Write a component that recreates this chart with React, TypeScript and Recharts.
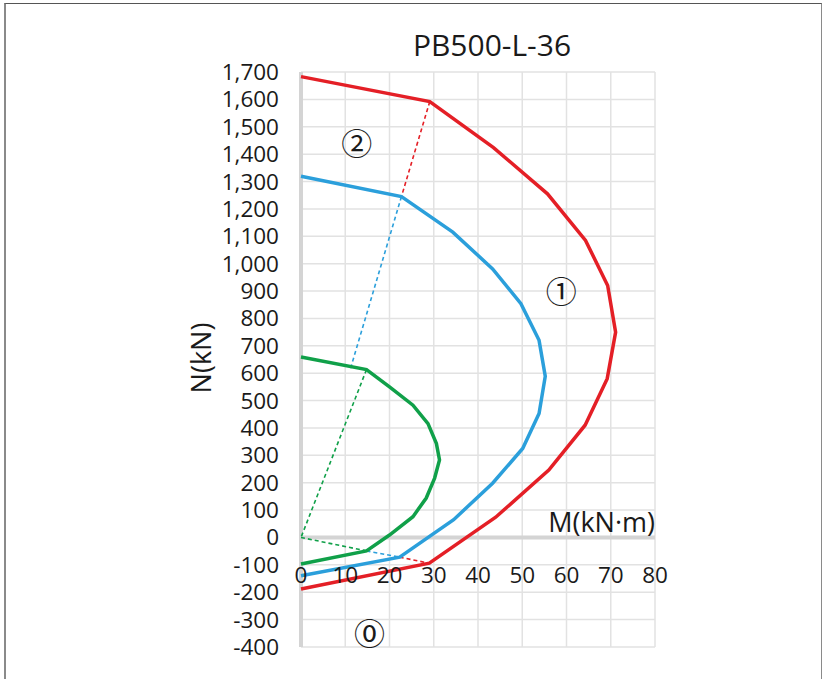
import React from 'react';
import {
  ScatterChart,
  Scatter,
  XAxis,
  YAxis,
  CartesianGrid,
  ReferenceLine,
  ReferenceDot,
} from 'recharts';

// axis ticks
const xTicks = [0, 10, 20, 30, 40, 50, 60, 70, 80];
const yTicks = [
  -400, -300, -200, -100, 0, 100, 200, 300, 400, 500, 600, 700, 800, 900, 1000,
  1100, 1200, 1300, 1400, 1500, 1600, 1700,
];

// interaction curves (M, N)
const redCurve = [
  { x: 0, y: -188 }, { x: 29, y: -94 }, { x: 44, y: 74 }, { x: 56, y: 246 },
  { x: 64.2, y: 410 }, { x: 69.2, y: 580 }, { x: 71.1, y: 750 }, { x: 69.3, y: 920 },
  { x: 64.3, y: 1085 }, { x: 55.7, y: 1255 }, { x: 43.5, y: 1424 }, { x: 29.1, y: 1592 },
  { x: 0, y: 1683 },
];
const blueCurve = [
  { x: 0, y: -140 }, { x: 22.3, y: -72 }, { x: 34.5, y: 65 }, { x: 43.3, y: 198 },
  { x: 50.1, y: 325 }, { x: 53.8, y: 453 }, { x: 55.2, y: 589 }, { x: 53.8, y: 720 },
  { x: 49.7, y: 854 }, { x: 43.3, y: 981 }, { x: 34.3, y: 1115 }, { x: 22.7, y: 1245 },
  { x: 0, y: 1319 },
];
const greenCurve = [
  { x: 0, y: -97 }, { x: 14.8, y: -49 }, { x: 20, y: 9 }, { x: 25.3, y: 76 },
  { x: 28.3, y: 144 }, { x: 30.2, y: 217 }, { x: 31.3, y: 283 }, { x: 30.6, y: 343 },
  { x: 28.7, y: 416 }, { x: 25.3, y: 483 }, { x: 20, y: 550 }, { x: 14.8, y: 613 },
  { x: 0, y: 659 },
];

// dashed guide segments
const redDashUp = [{ x: 29.1, y: 1592 }, { x: 22.7, y: 1245 }];
const blueDashUp = [{ x: 22.7, y: 1245 }, { x: 11.2, y: 618 }];
const greenDashUp = [{ x: 14.8, y: 613 }, { x: 0, y: 0 }];
const greenDashLow = [{ x: 0, y: 0 }, { x: 14.8, y: -49 }];
const blueDashLow = [{ x: 14.8, y: -49 }, { x: 22.3, y: -72 }];
const redDashLow = [{ x: 22.3, y: -72 }, { x: 29, y: -94 }];

// region markers
const markers = [
  { x: 58.8, y: 906, text: '①' },
  { x: 12.6, y: 1445, text: '②' },
  { x: 15.5, y: -344, text: '⓪' },
];

const RED = '#e41f26';
const BLUE = '#2b9fdb';
const GREEN = '#10a049';
const FONT = '"Open Sans", sans-serif';

const noDot = () => <g />;

// x tick labels sit below the N = 0 line, as in the original sheet
const XTick = (props: any) => {
  const { x, y, payload } = props;
  return (
    <text x={x} y={y - 73} textAnchor="middle" dominantBaseline="central" fontSize={22.5} fontFamily={FONT} fill="#1a1a1a">
      {payload.value}
    </text>
  );
};

export default function App() {
  return (
    <div style={{ position: 'absolute', left: 0, top: 0, width: 826, height: 679, overflow: 'hidden', background: '#fff' }}>
      <div style={{ position: 'absolute', left: 4, top: 3, width: 815, height: 700, borderTop: '1.5px solid #555', borderLeft: '2px solid #8a8a8a', borderRight: '1.5px solid #8a8a8a' }} />
      <div style={{ position: 'absolute', left: 0, top: 26, width: 984, textAlign: 'center', fontFamily: FONT, fontSize: 30, lineHeight: '38px', color: '#1a1a1a' }}>
        PB500-L-36
      </div>
      <div style={{ position: 'absolute', left: 200, top: 358, transform: 'translate(-50%, -50%) rotate(-90deg)', fontFamily: FONT, fontSize: 27, color: '#1a1a1a', whiteSpace: 'nowrap' }}>
        N(kN)
      </div>
      <div style={{ position: 'absolute', left: 0, top: 0 }}>
        <ScatterChart width={826} height={679} margin={{ top: 72, right: 171, bottom: 0, left: 201 }}>
          <CartesianGrid stroke="#e2e2e2" strokeWidth={1.5} />
          <XAxis
            type="number"
            dataKey="x"
            domain={[0, 80]}
            ticks={xTicks}
            interval={0}
            height={32}
            axisLine={false}
            tickLine={false}
            tickSize={0}
            tickMargin={0}
            tick={(p: any) => <XTick {...p} />}
          />
          <YAxis
            type="number"
            dataKey="y"
            domain={[-400, 1700]}
            ticks={yTicks}
            interval={0}
            width={100}
            axisLine={{ stroke: '#d4d4d4', strokeWidth: 4 }}
            tickLine={false}
            tickSize={0}
            tickMargin={22}
            tickFormatter={(v: number) => v.toLocaleString('en-US')}
            tick={{ fontSize: 22.5, fontFamily: FONT, fill: '#1a1a1a' }}
          />
          <ReferenceLine y={0} stroke="#d4d4d4" strokeWidth={4} />

          <Scatter data={redDashUp} line={{ stroke: RED, strokeWidth: 1.6, strokeDasharray: '4 3' }} shape={noDot} isAnimationActive={false} />
          <Scatter data={blueDashUp} line={{ stroke: BLUE, strokeWidth: 1.6, strokeDasharray: '4 3' }} shape={noDot} isAnimationActive={false} />
          <Scatter data={greenDashUp} line={{ stroke: GREEN, strokeWidth: 1.6, strokeDasharray: '4 3' }} shape={noDot} isAnimationActive={false} />
          <Scatter data={greenDashLow} line={{ stroke: GREEN, strokeWidth: 1.6, strokeDasharray: '4 3' }} shape={noDot} isAnimationActive={false} />
          <Scatter data={blueDashLow} line={{ stroke: BLUE, strokeWidth: 1.6, strokeDasharray: '4 3' }} shape={noDot} isAnimationActive={false} />
          <Scatter data={redDashLow} line={{ stroke: RED, strokeWidth: 1.6, strokeDasharray: '4 3' }} shape={noDot} isAnimationActive={false} />

          <Scatter data={greenCurve} line={{ stroke: GREEN, strokeWidth: 3.5 }} shape={noDot} isAnimationActive={false} />
          <Scatter data={blueCurve} line={{ stroke: BLUE, strokeWidth: 3.5 }} shape={noDot} isAnimationActive={false} />
          <Scatter data={redCurve} line={{ stroke: RED, strokeWidth: 3.5 }} shape={noDot} isAnimationActive={false} />

          {markers.map((m) => (
            <ReferenceDot
              key={m.text}
              x={m.x}
              y={m.y}
              r={0}
              ifOverflow="visible"
              shape={(p: any) => (
                <text x={p.cx} y={p.cy} textAnchor="middle" dominantBaseline="central" fontSize={31} fontFamily='"Noto Sans CJK JP", sans-serif' fill="#1a1a1a">
                  {m.text}
                </text>
              )}
            />
          ))}
          <ReferenceDot
            x={80}
            y={57}
            r={0}
            ifOverflow="visible"
            shape={(p: any) => (
              <text x={p.cx} y={p.cy} textAnchor="end" dominantBaseline="central" fontSize={27} fontFamily={FONT} fill="#1a1a1a">
                M(kN·m)
              </text>
            )}
          />
        </ScatterChart>
      </div>
    </div>
  );
}
